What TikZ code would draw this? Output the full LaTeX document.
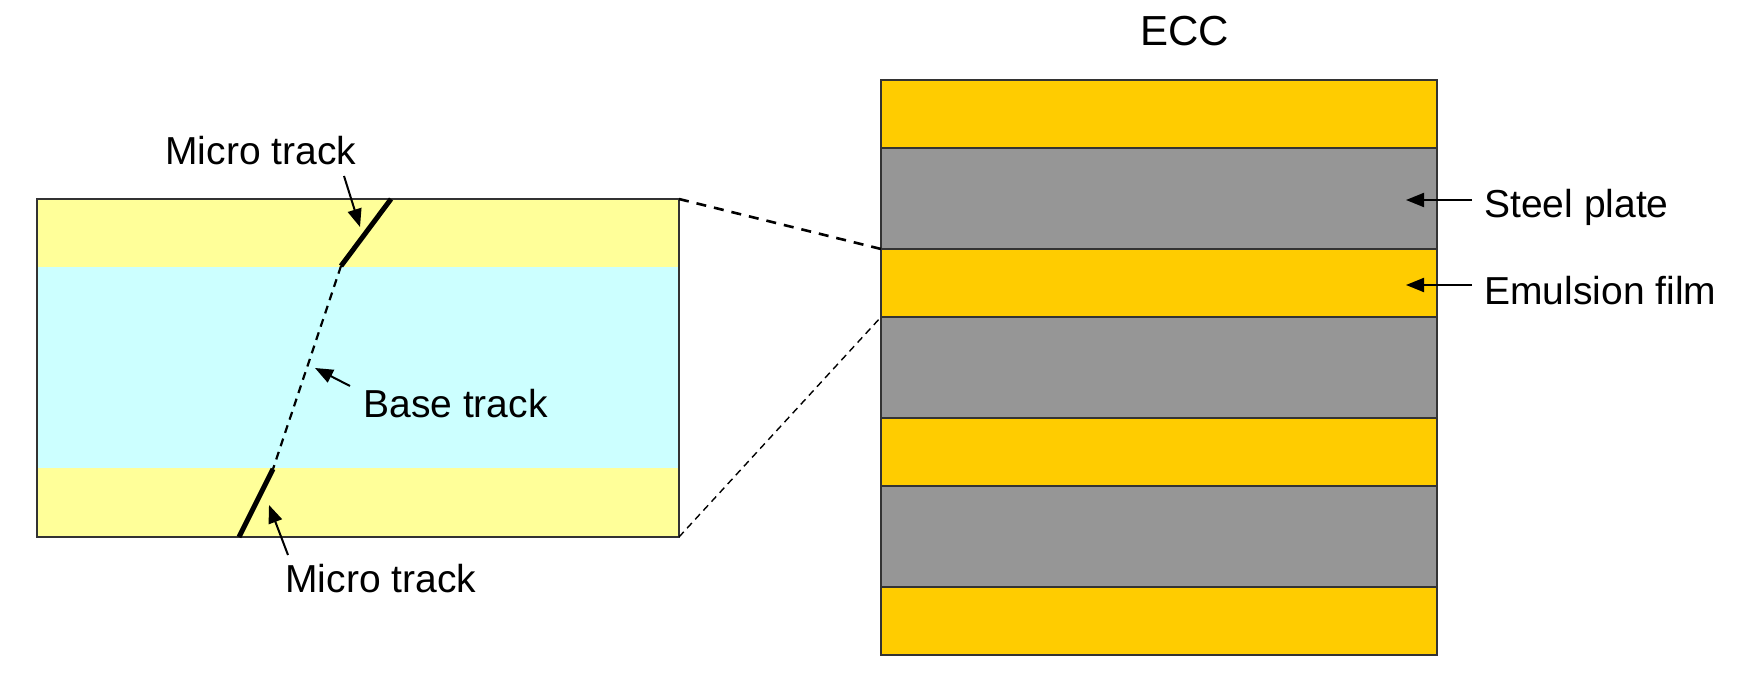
\documentclass[tikz,border=0pt]{standalone}
\usepackage{fontspec}
\setmainfont{Liberation Sans}
\usetikzlibrary{arrows.meta}
\definecolor{emlight}{HTML}{FFFF99}
\definecolor{baseblue}{HTML}{CCFFFF}
\definecolor{emul}{HTML}{FFCC00}
\definecolor{steel}{HTML}{969696}
\definecolor{edge}{HTML}{333333}
\begin{document}
\begin{tikzpicture}[x=0.5pt,y=-0.5pt,
  lbl/.style={font=\fontsize{19.5pt}{22pt}\selectfont, inner sep=0pt, anchor=base west},
  layer/.style={draw=edge, line width=0.6pt, anchor=north west, minimum width=278pt, inner sep=0pt, outer sep=0pt},
  emlayer/.style={layer, fill=emul, minimum height=34pt},
  stlayer/.style={layer, fill=steel, minimum height=50.5pt},
  arr/.style={line width=1pt, -{Triangle[length=9pt,width=7pt]}},
  zoomline/.style={line width=1.3pt, dash pattern=on 5pt off 4pt},
  zoomlinethin/.style={line width=0.7pt, dash pattern=on 3.5pt off 2.5pt},
  micro/.style={line width=2.5pt},
  basetrk/.style={line width=1.1pt, dash pattern=on 4pt off 3pt}]
\useasboundingbox (0,0) rectangle (1755,678);
% left film cross-section
\fill[emlight] (37,199) rectangle (679,267);
\fill[baseblue] (37,267) rectangle (679,468);
\fill[emlight] (37,468) rectangle (679,537);
\node[draw=edge, line width=0.75pt, anchor=north west, minimum width=321pt, minimum height=169pt, inner sep=0pt, outer sep=0pt] (film) at (37,199) {};
% tracks
\coordinate (t1) at (391,199);
\coordinate (t2) at (341,266);
\coordinate (t3) at (273,469);
\coordinate (t4) at (239,537);
\draw[micro] (t1) -- (t2);
\draw[basetrk] (t2) -- (t3);
\draw[micro] (t3) -- (t4);
% ECC stack
\node[emlayer] (e1) at (881,80) {};
\node[stlayer] (s1) at (881,148) {};
\node[emlayer] (e2) at (881,249) {};
\node[stlayer] (s2) at (881,317) {};
\node[emlayer] (e3) at (881,418) {};
\node[stlayer] (s3) at (881,486) {};
\node[emlayer] (e4) at (881,587) {};
% zoom lines
\draw[zoomline] (film.north east) -- (e2.north west);
\draw[zoomlinethin] (film.south east) -- (e2.south west);
% labels
\node[lbl, font=\fontsize{21pt}{24pt}\selectfont] (ecc) at (1140,46) {ECC};
\node[lbl] (mtop) at (165,165) {Micro track};
\node[lbl] (btrk) at (363,417) {Base track};
\node[lbl] (mbot) at (285,592) {Micro track};
\node[lbl] (steel) at (1484,218) {Steel plate};
\node[lbl] (emu) at (1484,305) {Emulsion film};
% arrows
\coordinate (a1s) at (344,176);
\coordinate (a1e) at (360,227);
\coordinate (a2s) at (350,386);
\coordinate (a2e) at (315,368);
\coordinate (a3s) at (288,555);
\coordinate (a3e) at (269,505);
\coordinate (a4s) at (1472,200);
\coordinate (a4e) at (1406,200);
\coordinate (a5s) at (1472,285);
\coordinate (a5e) at (1406,285);
\draw[arr] (a1s) -- (a1e);
\draw[arr] (a2s) -- (a2e);
\draw[arr] (a3s) -- (a3e);
\draw[arr] (a4s) -- (a4e);
\draw[arr] (a5s) -- (a5e);
\end{tikzpicture}
\end{document}
